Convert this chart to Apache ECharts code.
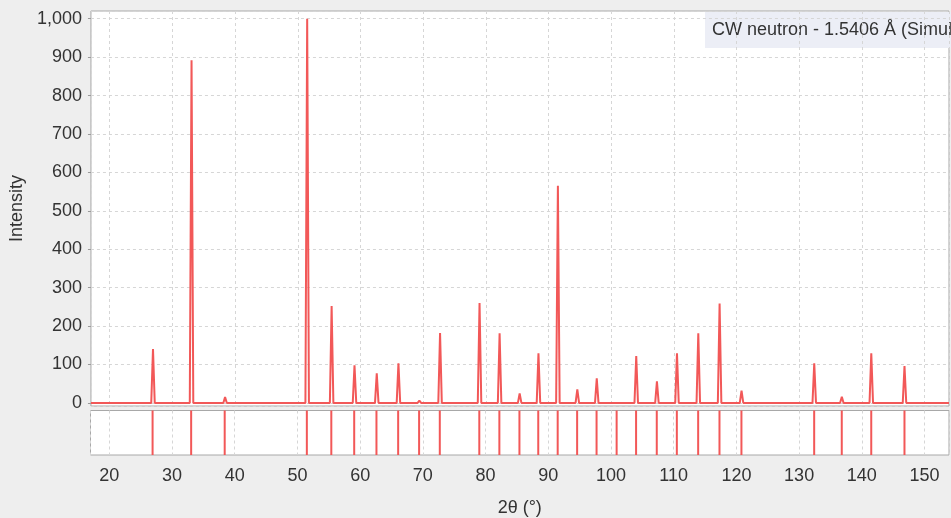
<!DOCTYPE html>
<html>
<head>
<meta charset="utf-8">
<script src="https://cdn.jsdelivr.net/npm/echarts@6/dist/echarts.min.js"></script>
<style>
  html, body { margin: 0; padding: 0; background: #eeeeee; }
  #chart { width: 951px; height: 518px; }
</style>
</head>
<body>
<div id="chart"></div>
<script>
// Reflection positions (2θ, degrees) and simulated peak intensities
const peakPositions = [26.9, 33.05, 38.4, 51.5, 55.4, 59.05, 62.6, 66.06, 69.4, 72.7,
  79.0, 82.2, 85.4, 88.4, 91.5, 94.6, 97.7, 100.9, 104.0, 107.3,
  110.5, 113.9, 117.3, 120.8, 132.4, 136.8, 141.5, 146.8];
const peakIntensities = [140, 892, 15, 1000, 252, 98, 77, 103, 6, 182,
  260, 181, 25, 129, 565, 35, 64, 4, 122, 56,
  129, 181, 259, 32, 103, 16, 129, 96];

const xRange = [17, 153.9];
const yRange = [-8, 1020];
const profileHalfWidth = 0.28;
const legendText = 'CW neutron - 1.5406 Å (Simulated)';
const red = '#f25858';

// Profile polyline: flat baseline with a narrow spike at each reflection
const profile = [[xRange[0], 0]];
peakPositions.forEach((p, i) => {
  profile.push([p - profileHalfWidth, 0]);
  profile.push([p, peakIntensities[i]]);
  profile.push([p + profileHalfWidth, 0]);
});
profile.push([xRange[1], 0]);

// One full-height tick per reflection in the lower strip
const tickSeries = peakPositions.map(p => ({
  type: 'line', xAxisIndex: 1, yAxisIndex: 1,
  data: [[p, 0], [p, 1]],
  showSymbol: false, symbol: 'none', silent: true,
  lineStyle: { color: red, width: 2 }
}));

const font = 'Liberation Sans, Arial, sans-serif';
const fontSize = 18;
const gridLine = { show: true, lineStyle: { color: '#d6d6d6', type: [3, 3], width: 1 } };

const chart = echarts.init(document.getElementById('chart'), null, { renderer: 'canvas' });
chart.setOption({
  backgroundColor: '#eeeeee',
  animation: false,
  grid: [
    { left: 90.5, right: 2, top: 11, height: 395, show: true, backgroundColor: '#ffffff', borderColor: '#a8a8a8', borderWidth: 1 },
    { left: 90.5, right: 2, top: 410.5, height: 46.5, show: true, backgroundColor: '#ffffff', borderColor: '#a8a8a8', borderWidth: 1 }
  ],
  xAxis: [
    {
      type: 'value', gridIndex: 0, min: xRange[0], max: xRange[1], splitNumber: 14,
      axisLine: { show: false }, axisTick: { show: false }, axisLabel: { show: false },
      splitLine: gridLine
    },
    {
      type: 'value', gridIndex: 1, min: xRange[0], max: xRange[1], splitNumber: 14,
      axisLine: { show: false }, axisTick: { show: false },
      axisLabel: { show: true, showMinLabel: false, showMaxLabel: false, color: '#333', fontFamily: font, fontSize: fontSize, margin: 12 },
      splitLine: gridLine,
      name: '2θ (°)', nameLocation: 'middle', nameGap: 44,
      nameTextStyle: { color: '#333', fontFamily: font, fontSize: fontSize }
    }
  ],
  yAxis: [
    {
      type: 'value', gridIndex: 0, min: yRange[0], max: yRange[1], splitNumber: 10,
      axisLine: { show: false },
      axisTick: { show: true, length: 3, lineStyle: { color: '#999' } },
      axisLabel: {
        show: true, showMinLabel: false, showMaxLabel: false, color: '#333', fontFamily: font, fontSize: fontSize, margin: 9,
        formatter: v => v.toLocaleString('en-US')
      },
      splitLine: gridLine,
      name: 'Intensity', nameLocation: 'middle', nameGap: 64, nameRotate: 90,
      nameTextStyle: { color: '#333', fontFamily: font, fontSize: fontSize }
    },
    {
      type: 'value', gridIndex: 1, min: 0, max: 1,
      axisLine: { show: false }, axisTick: { show: false }, axisLabel: { show: false }, splitLine: { show: false }
    }
  ],
  series: [
    {
      type: 'line', xAxisIndex: 0, yAxisIndex: 0, data: profile,
      showSymbol: false, symbol: 'none', clip: true,
      lineStyle: { color: red, width: 2 }
    }
  ].concat(tickSeries),
  graphic: [
    {
      type: 'group', left: 705, top: 12,
      children: [
        { type: 'rect', shape: { x: 0, y: 0, width: 260, height: 36 }, style: { fill: '#eceef6' } },
        { type: 'text', x: 7, y: 9, style: { text: legendText, fill: '#333', font: fontSize + 'px ' + font } }
      ]
    }
  ]
});
</script>
</body>
</html>
